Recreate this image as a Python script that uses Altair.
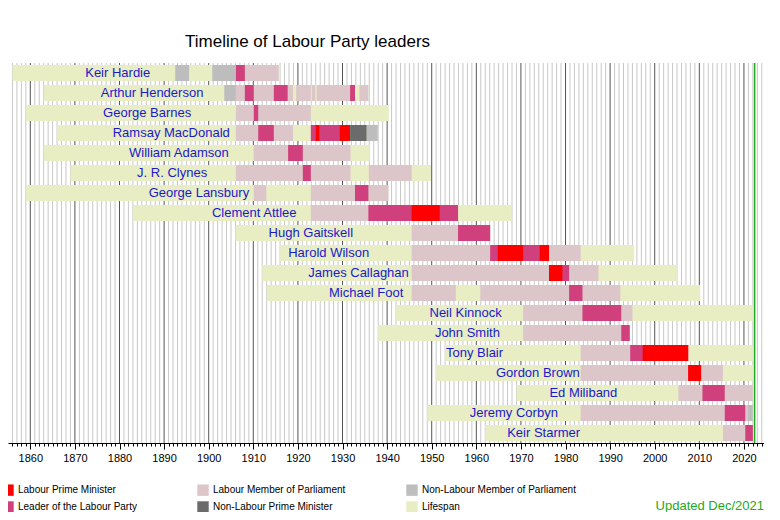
import altair as alt
import pandas as pd

END = 2022.0
names = ["Keir Hardie","Arthur Henderson","George Barnes","Ramsay MacDonald","William Adamson",
         "J. R. Clynes","George Lansbury","Clement Attlee","Hugh Gaitskell","Harold Wilson",
         "James Callaghan","Michael Foot","Neil Kinnock","John Smith","Tony Blair","Gordon Brown",
         "Ed Miliband","Jeremy Corbyn","Keir Starmer"]
born = [1856,1863,1859,1866,1863,1869,1859,1883,1906,1916,1912,1913,1942,1938,1953,1951,1969,1949,1962]
died = [1915.7,1935.8,1940.4,1937.9,1936.1,1949.8,1940.3,1967.8,1963.1,1995.4,2005.2,2010.2,END,1994.4,END,END,END,END,END]
label_year = [1879.6,1887.3,1886.2,1891.6,1893.3,1891.8,1897.8,1910.2,1922.9,1926.9,1933.6,1935.3,
              1957.6,1958,1959.6,1973.8,1984,1968.4,1975.1]
decades = list(range(1860, 2030, 10))
all_years = list(range(1856, 2025))

seg_person = []
seg_start = []
seg_end = []
seg_kind = []
def add(i, s, e, k):
    seg_person.append(names[i]); seg_start.append(s); seg_end.append(e); seg_kind.append(k)

MP, NLMP, LDR, PM, NLPM = ("Labour Member of Parliament","Non-Labour Member of Parliament",
                          "Leader of the Labour Party","Labour Prime Minister","Non-Labour Prime Minister")
add(0,1892.5,1895.6,NLMP); add(0,1900.8,1906.1,NLMP); add(0,1906.1,1915.7,MP); add(0,1906.1,1908.1,LDR)
add(1,1903.5,1906.1,NLMP); add(1,1906.1,1918.9,MP); add(1,1919.6,1922.9,MP); add(1,1923.1,1923.9,MP)
add(1,1924.2,1931.8,MP); add(1,1933.8,1935.8,MP)
add(1,1908.1,1910.1,LDR); add(1,1914.6,1917.7,LDR); add(1,1931.7,1932.8,LDR)
add(2,1906.1,1922.9,MP); add(2,1910.1,1911.1,LDR)
add(3,1906.1,1918.9,MP); add(3,1922.9,1931.7,MP); add(3,1911.1,1914.6,LDR); add(3,1922.9,1931.7,LDR)
add(3,1924.0,1924.8,PM); add(3,1929.4,1931.7,PM); add(3,1931.7,1935.4,NLPM); add(3,1935.4,1937.9,NLMP)
add(4,1910.1,1931.8,MP); add(4,1917.8,1921.1,LDR)
add(5,1906.1,1931.8,MP); add(5,1935.9,1945.5,MP); add(5,1921.1,1922.9,LDR)
add(6,1910.1,1912.9,MP); add(6,1922.9,1940.3,MP); add(6,1932.8,1935.8,LDR)
add(7,1922.9,1955.9,MP); add(7,1935.8,1955.9,LDR); add(7,1945.5,1951.8,PM)
add(8,1945.5,1963.1,MP); add(8,1955.9,1963.1,LDR)
add(9,1945.5,1983.4,MP); add(9,1963.1,1976.3,LDR); add(9,1964.8,1970.5,PM); add(9,1974.2,1976.3,PM)
add(10,1945.5,1987.4,MP); add(10,1976.3,1980.8,LDR); add(10,1976.3,1979.3,PM)
add(11,1945.5,1955.4,MP); add(11,1960.9,1992.3,MP); add(11,1980.8,1983.8,LDR)
add(12,1970.5,1995.0,MP); add(12,1983.8,1992.5,LDR)
add(13,1970.5,1994.4,MP); add(13,1992.5,1994.4,LDR)
add(14,1983.4,2007.5,MP); add(14,1994.5,2007.5,LDR); add(14,1997.3,2007.5,PM)
add(15,1983.4,2015.3,MP); add(15,2007.5,2010.4,LDR); add(15,2007.5,2010.4,PM)
add(16,2005.3,END,MP); add(16,2010.7,2015.7,LDR)
add(17,1983.4,2020.8,MP); add(17,2015.7,2020.3,LDR); add(17,2020.8,END,NLMP)
add(18,2015.3,END,MP); add(18,2020.3,END,LDR)

LIFE = "Lifespan"
order = [PM, LDR, MP, NLPM, NLMP, LIFE]
colors = ["#ff0000", "#d0407c", "#dcc6ca", "#6b6b6b", "#bdbdbd", "#e8edc4"]
rank = {LIFE:0, MP:1, NLMP:1, LDR:2, PM:3, NLPM:3}

segs = pd.DataFrame({"name": names, "start": born, "end": died, "kind": LIFE})
segs = pd.concat([segs, pd.DataFrame({"name": seg_person, "start": seg_start, "end": seg_end, "kind": seg_kind})])
segs["rank"] = segs["kind"].map(rank)
segs = segs.sort_values("rank", kind="stable")

labels = pd.DataFrame({"name": names, "x": label_year})
years = pd.DataFrame({"year": all_years})

xs = alt.Scale(domain=[1855, 2024.5], nice=False, zero=False)
ys = alt.Scale(domain=names, paddingInner=0.2, paddingOuter=0.1)

grid = alt.Chart(years).mark_rule(strokeWidth=1).encode(
    x=alt.X("year:Q", scale=xs, axis=alt.Axis(
        values=all_years, labels=False, tickSize=3, tickColor="#000", domainColor="#000",
        title=None, grid=False, orient="bottom")),
    color=alt.condition("datum.year % 10 === 0", alt.value("#555555"), alt.value("#c8c8c8")),
)
green = alt.Chart(pd.DataFrame({"year": [2022.4]})).mark_rule(color="#22aa22", strokeWidth=1.5).encode(
    x=alt.X("year:Q", scale=xs, axis=None))

bars = alt.Chart(segs).mark_bar(cornerRadius=0).encode(
    x=alt.X("start:Q", scale=xs, axis=alt.Axis(
        values=decades, format="d", labelOverlap=False, tickSize=6, tickColor="#000",
        domain=False, labelFontSize=11, labelColor="#000", labelFont="Liberation Sans",
        title=None, grid=False, labelPadding=3, orient="bottom")),
    x2="end:Q",
    y=alt.Y("name:N", scale=ys, axis=None, sort=names),
    color=alt.Color("kind:N", scale=alt.Scale(domain=order, range=colors), sort=order,
                    legend=alt.Legend(title=None, orient="none", legendX=-6, legendY=421, columns=3,
                                      symbolType="square", symbolSize=130, symbolStrokeWidth=0,
                                      labelFont="Liberation Sans", labelFontSize=10, labelColor="#000",
                                      columnPadding=60, labelLimit=220, rowPadding=5,
                                      symbolOpacity=1)),
    order=alt.Order("rank:Q"),
)

txt = alt.Chart(labels).mark_text(font="Liberation Sans", fontSize=13, color="#1a1acc").encode(
    x=alt.X("x:Q", scale=xs, axis=None), y=alt.Y("name:N", scale=ys, sort=names), text="name:N")

upd = alt.Chart(pd.DataFrame({"t": ["Updated Dec/2021"]})).mark_text(
    font="Liberation Sans", fontSize=13, color="#22aa22", align="right").encode(
    x=alt.value(756), y=alt.value(443), text="t:N")

chart = alt.layer(grid, green, bars, txt, upd).resolve_axis(x="independent").properties(
    width=756, height=380,
    title=alt.TitleParams("Timeline of Labour Party leaders", font="Liberation Sans", fontSize=17,
                          fontWeight="normal", anchor="start", dx=183, offset=11, color="#000"),
    padding={"left": 0, "top": 55, "right": 0, "bottom": 69},
    autosize="none",
).configure_view(stroke=None)

chart.save("out.html", embed_options={"renderer": "svg", "actions": False})
